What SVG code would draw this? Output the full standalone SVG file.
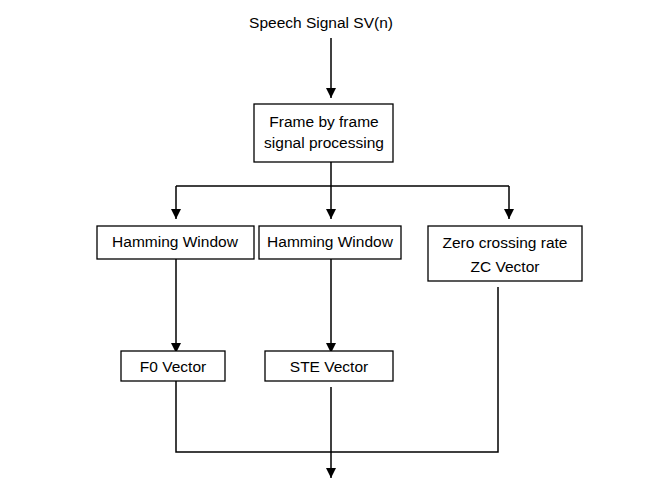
<svg xmlns="http://www.w3.org/2000/svg" width="647" height="500" viewBox="0 0 647 500">
<style>
.box{fill:#fff;stroke:#000;stroke-width:1.3}
.t{font-family:"Liberation Sans",Arial,sans-serif;font-size:15.5px;fill:#000;text-anchor:middle}
.ln{fill:none;stroke:#000;stroke-width:1.5}
.arr{marker-end:url(#ah)}
</style>
<defs>
<marker id="ah" markerUnits="userSpaceOnUse" markerWidth="10" markerHeight="11" refX="10" refY="5" orient="auto" viewBox="0 0 10 10">
<path d="M0,0 L10,5 L0,10 Z" fill="#000"/>
</marker>
</defs>
<rect width="647" height="500" fill="#fff"/>
<g id="connectors">
<line class="ln arr" x1="331" y1="38" x2="331" y2="98"/>
<polyline class="ln" points="331,162 331,186"/>
<line class="ln" x1="176" y1="186" x2="509" y2="186"/>
<line class="ln arr" x1="176" y1="186" x2="176" y2="219"/>
<line class="ln arr" x1="331" y1="186" x2="331" y2="219"/>
<line class="ln arr" x1="509" y1="186" x2="509" y2="219"/>
<line class="ln arr" x1="176" y1="259" x2="176" y2="353"/>
<line class="ln arr" x1="331" y1="259" x2="331" y2="353"/>
<polyline class="ln" points="176,381 176,452 498,452 498,287"/>
<line class="ln arr" x1="331" y1="387" x2="331" y2="478"/>
</g>
<g id="title"><text class="t" x="321" y="28">Speech Signal SV(n)</text></g>
<g id="frame"><rect class="box" x="254" y="104" width="139" height="58"/>
<text class="t" x="324" y="127">Frame by frame</text><text class="t" x="324" y="148">signal processing</text></g>
<g id="hamming1"><rect class="box" x="97" y="226" width="157" height="33"/><text class="t" x="175" y="247">Hamming Window</text></g>
<g id="hamming2"><rect class="box" x="259" y="226" width="142" height="33"/><text class="t" x="330" y="247">Hamming Window</text></g>
<g id="zcr"><rect class="box" x="428" y="226" width="154" height="55"/><text class="t" x="505" y="248">Zero crossing rate</text><text class="t" x="505" y="272">ZC Vector</text></g>
<g id="f0"><rect class="box" x="121" y="351" width="104" height="30"/><text class="t" x="173" y="372">F0 Vector</text></g>
<g id="ste"><rect class="box" x="265" y="351" width="128" height="30"/><text class="t" x="329" y="372">STE Vector</text></g>
</svg>
